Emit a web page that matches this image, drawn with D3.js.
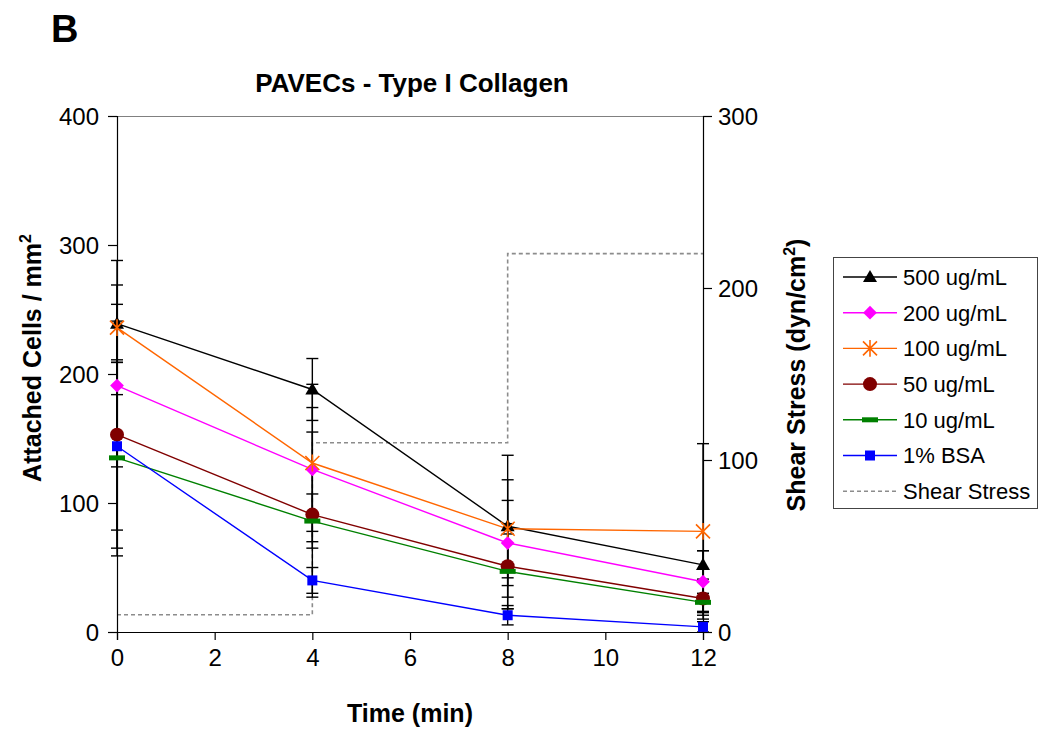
<!DOCTYPE html>
<html>
<head>
<meta charset="utf-8">
<script src="https://cdn.jsdelivr.net/npm/d3@7"></script>
<style>
  body { margin: 0; background: #fff; }
  text { font-family: Arial, "Liberation Sans", sans-serif; }
</style>
</head>
<body>
<div id="wrapper"></div>
<script>
// values
const times = [0, 4, 8, 12];
const seriesNames = ['500 ug/mL', '200 ug/mL', '100 ug/mL', '50 ug/mL', '10 ug/mL', '1% BSA'];
const cells500 = [239, 188, 82, 52];
const err500 = [30, 24, 55, 11];
const cells200 = [191, 126, 69, 39];
const err200 = [63, 48, 33, 24];
const cells100 = [236, 131, 80, 78];
const err100 = [52, 61, 38, 68];
const cells50 = [153, 91, 51, 26];
const err50 = [88, 64, 33, 13];
const cells10 = [135, 86, 47, 23];
const err10 = [76, 21, 29, 7];
const cellsBSA = [144, 40, 13, 4];
const errBSA = [65, 10, 7.5, 4];
const shearStress = [10, 110, 220, 220];
const xTicks = [0, 2, 4, 6, 8, 10, 12];
const leftTicks = [0, 100, 200, 300, 400];
const rightTicks = [0, 100, 200, 300];

const colors = ['#000000', '#ff00ff', '#ff6600', '#800000', '#008000', '#0000ff'];
const markers = ['triangle', 'diamond', 'star', 'circle', 'dash', 'square'];
const allCells = [cells500, cells200, cells100, cells50, cells10, cellsBSA];
const allErr = [err500, err200, err100, err50, err10, errBSA];

const series = seriesNames.map((name, i) => ({
  name,
  color: colors[i],
  marker: markers[i],
  points: times.map((t, j) => ({ t, v: allCells[i][j], e: allErr[i][j] }))
}));

let dimensions = {
  width: 1038,
  height: 731,
  margins: { top: 116, right: 335, bottom: 99, left: 117 }
};
dimensions.boundedWidth = dimensions.width - dimensions.margins.left - dimensions.margins.right;
dimensions.boundedHeight = dimensions.height - dimensions.margins.top - dimensions.margins.bottom;

const wrapper = d3.select('#wrapper')
  .append('svg')
    .attr('width', dimensions.width)
    .attr('height', dimensions.height);

const bounds = wrapper.append('g')
    .attr('transform', `translate(${dimensions.margins.left},${dimensions.margins.top})`);

const xScale = d3.scaleLinear().domain([0, 12]).range([0, dimensions.boundedWidth]);
const yScale = d3.scaleLinear().domain([0, 400]).range([dimensions.boundedHeight, 0]);
const y2Scale = d3.scaleLinear().domain([0, 300]).range([dimensions.boundedHeight, 0]);

// plot area top border
bounds.append('line')
    .attr('x1', 0).attr('x2', dimensions.boundedWidth)
    .attr('y1', 0.5).attr('y2', 0.5)
    .attr('stroke', '#808080');

// shear stress step line
const stressLine = d3.line()
    .x((d, i) => xScale(times[i]))
    .y(d => y2Scale(d))
    .curve(d3.curveStepAfter);

bounds.append('path')
    .attr('d', stressLine(shearStress))
    .attr('fill', 'none')
    .attr('stroke', '#8c8c8c')
    .attr('stroke-width', 1.6)
    .attr('stroke-dasharray', '4,3');

// axes
const fontSize = 24;
const yAxis = bounds.append('g')
    .call(d3.axisLeft(yScale).tickValues(leftTicks).tickSize(9).tickPadding(9));
const y2Axis = bounds.append('g')
    .attr('transform', `translate(${dimensions.boundedWidth},0)`)
    .call(d3.axisRight(y2Scale).tickValues(rightTicks).tickSize(9).tickPadding(6));
const xAxis = bounds.append('g')
    .attr('transform', `translate(0,${dimensions.boundedHeight})`)
    .call(d3.axisBottom(xScale).tickValues(xTicks).tickSize(8).tickPadding(9));

[yAxis, y2Axis, xAxis].forEach(ax => {
  ax.selectAll('path, line').attr('stroke', '#000').attr('stroke-width', 1.2);
  ax.selectAll('text')
      .attr('fill', '#000')
      .style('font-size', fontSize + 'px');
});
yAxis.selectAll('text').attr('dy', '0.36em');
y2Axis.selectAll('text').attr('dy', '0.36em');

// error bars
const errG = bounds.append('g');
series.forEach(s => {
  s.points.forEach(p => {
    const x = xScale(p.t);
    const yTop = yScale(p.v + p.e);
    const yBot = yScale(Math.max(0, p.v - p.e));
    errG.append('line')
        .attr('x1', x).attr('x2', x)
        .attr('y1', yTop).attr('y2', yBot)
        .attr('stroke', '#000').attr('stroke-width', 1.4);
    [yTop, yBot].forEach(yy => {
      errG.append('line')
          .attr('x1', x - 6).attr('x2', x + 6)
          .attr('y1', yy).attr('y2', yy)
          .attr('stroke', '#000').attr('stroke-width', 1.4);
    });
  });
});

// series lines
const lineGenerator = d3.line()
    .x(d => xScale(d.t))
    .y(d => yScale(d.v));

series.forEach(s => {
  bounds.append('path')
      .attr('d', lineGenerator(s.points))
      .attr('fill', 'none')
      .attr('stroke', s.color)
      .attr('stroke-width', 1.4);
});

function drawMarker(g, type, color, x, y) {
  if (type === 'triangle') {
    g.append('path')
        .attr('d', d3.symbol(d3.symbolTriangle, 85)())
        .attr('transform', `translate(${x},${y + 1})`)
        .attr('fill', color);
  } else if (type === 'diamond') {
    g.append('path')
        .attr('d', d3.symbol(d3.symbolSquare, 95)())
        .attr('transform', `translate(${x},${y}) rotate(45)`)
        .attr('fill', color);
  } else if (type === 'star') {
    const r = 7;
    g.append('path')
        .attr('d', `M${x - r},${y - r}L${x + r},${y + r}M${x - r},${y + r}L${x + r},${y - r}M${x},${y - r * 1.2}L${x},${y + r * 1.2}`)
        .attr('stroke', color)
        .attr('stroke-width', 1.6)
        .attr('fill', 'none');
  } else if (type === 'circle') {
    g.append('circle')
        .attr('cx', x).attr('cy', y).attr('r', 7)
        .attr('fill', color);
  } else if (type === 'dash') {
    g.append('rect')
        .attr('x', x - 8).attr('y', y - 2.5)
        .attr('width', 16).attr('height', 5)
        .attr('fill', color);
  } else if (type === 'square') {
    g.append('rect')
        .attr('x', x - 5).attr('y', y - 5)
        .attr('width', 10).attr('height', 10)
        .attr('fill', color);
  }
}

const markerG = bounds.append('g');
series.forEach(s => {
  s.points.forEach(p => drawMarker(markerG, s.marker, s.color, xScale(p.t), yScale(p.v)));
});

// titles
wrapper.append('text')
    .attr('x', 51).attr('y', 42)
    .style('font-size', '38px').style('font-weight', 'bold')
    .text('B');

wrapper.append('text')
    .attr('x', 412).attr('y', 92)
    .attr('text-anchor', 'middle')
    .style('font-size', '26px').style('font-weight', 'bold')
    .text('PAVECs - Type I Collagen');

wrapper.append('text')
    .attr('x', dimensions.margins.left + dimensions.boundedWidth / 2).attr('y', 722)
    .attr('text-anchor', 'middle')
    .style('font-size', '25px').style('font-weight', 'bold')
    .text('Time (min)');

const leftLabel = wrapper.append('text')
    .attr('transform', 'translate(41,358) rotate(-90)')
    .attr('text-anchor', 'middle')
    .style('font-size', '25px').style('font-weight', 'bold');
leftLabel.append('tspan').text('Attached Cells / mm');
leftLabel.append('tspan').attr('dy', -10).style('font-size', '16px').text('2');

const rightLabel = wrapper.append('text')
    .attr('transform', 'translate(805,375) rotate(-90)')
    .attr('text-anchor', 'middle')
    .style('font-size', '25px').style('font-weight', 'bold');
rightLabel.append('tspan').text('Shear Stress (dyn/cm');
rightLabel.append('tspan').attr('dy', -10).style('font-size', '16px').text('2');
rightLabel.append('tspan').attr('dy', 10).text(')');

// legend
const legend = wrapper.append('g').attr('transform', 'translate(833,257)');
legend.append('rect')
    .attr('x', 0.5).attr('y', 0.5)
    .attr('width', 204).attr('height', 251)
    .attr('fill', '#fff')
    .attr('stroke', '#444');

const legendItems = series.map(s => ({ name: s.name, color: s.color, marker: s.marker, dashed: false }))
  .concat([{ name: 'Shear Stress', color: '#8c8c8c', marker: null, dashed: true }]);

legendItems.forEach((item, i) => {
  const y = 20 + i * 35.7;
  legend.append('line')
      .attr('x1', 10).attr('x2', 64)
      .attr('y1', y).attr('y2', y)
      .attr('stroke', item.color)
      .attr('stroke-width', item.dashed ? 1.6 : 1.4)
      .attr('stroke-dasharray', item.dashed ? '4,3' : null);
  if (item.marker) drawMarker(legend, item.marker, item.color, 37, y);
  legend.append('text')
      .attr('x', 70).attr('y', y)
      .attr('dy', '0.36em')
      .style('font-size', '22px')
      .text(item.name);
});
</script>
</body>
</html>
